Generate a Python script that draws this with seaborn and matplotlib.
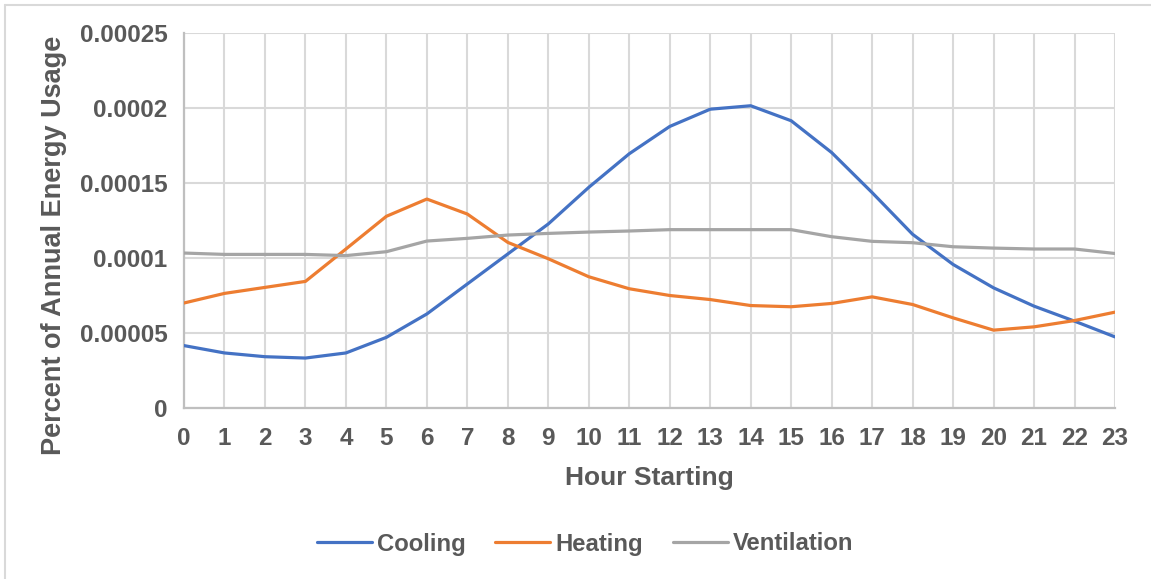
import matplotlib
matplotlib.use("Agg")
import matplotlib.pyplot as plt
from matplotlib.lines import Line2D
import seaborn as sns
import pandas as pd

hours = list(range(24))
cooling = [0.0000416, 0.0000367, 0.0000342, 0.0000333, 0.0000367, 0.0000471,
           0.0000627, 0.0000827, 0.0001027, 0.0001227, 0.0001471, 0.0001695,
           0.0001877, 0.0001992, 0.0002015, 0.0001915, 0.0001703, 0.0001436,
           0.0001158, 0.0000957, 0.0000801, 0.0000679, 0.0000579, 0.0000474]
heating = [0.0000700, 0.0000764, 0.0000804, 0.0000844, 0.0001060, 0.0001278,
           0.0001393, 0.0001293, 0.0001104, 0.0000995, 0.0000875, 0.0000795,
           0.0000750, 0.0000723, 0.0000683, 0.0000675, 0.0000697, 0.0000741,
           0.0000690, 0.0000601, 0.0000519, 0.0000541, 0.0000583, 0.0000639]
ventilation = [0.0001033, 0.0001024, 0.0001024, 0.0001024, 0.0001016, 0.0001042,
               0.0001113, 0.0001131, 0.0001153, 0.0001164, 0.0001173, 0.0001180,
               0.0001189, 0.0001189, 0.0001189, 0.0001189, 0.0001142, 0.0001111,
               0.0001102, 0.0001075, 0.0001066, 0.0001060, 0.0001060, 0.0001030]
series_names = ["Cooling", "Heating", "Ventilation"]
colors = ["#4472C4", "#ED7D31", "#A5A5A5"]
ytick_vals = [0, 0.00005, 0.0001, 0.00015, 0.0002, 0.00025]
ytick_labels = ["0", "0.00005", "0.0001", "0.00015", "0.0002", "0.00025"]

df = pd.DataFrame({
    "Hour": hours * 3,
    "Value": cooling + heating + ventilation,
    "Series": [s for s in series_names for _ in hours],
})

sns.set_theme(style="white")
plt.rcParams["font.family"] = ["Liberation Sans", "DejaVu Sans"]
txt = "#595959"

W, H = 1151, 579
fig = plt.figure(figsize=(W / 100, H / 100), dpi=100)
ax = fig.add_axes([184 / W, 1 - 408 / H, (1115 - 184) / W, (408 - 33) / H])

sns.lineplot(data=df, x="Hour", y="Value", hue="Series", hue_order=series_names,
             palette=colors, linewidth=2.3, ax=ax, legend=False, zorder=3)

ax.set_xlim(0, 23)
ax.set_ylim(0, 0.00025)
ax.set_xticks(hours)
ax.set_xticklabels([str(h) for h in hours])
ax.set_yticks(ytick_vals)
ax.set_yticklabels(ytick_labels)
ax.grid(True, color="#D9D9D9", linewidth=1.5, zorder=0)
ax.set_axisbelow(True)
for s in ["top", "right"]:
    ax.spines[s].set_visible(False)
for s in ["left", "bottom"]:
    ax.spines[s].set_color("#BFBFBF")
    ax.spines[s].set_linewidth(1.6)
ax.tick_params(axis="both", length=0, labelsize=17.5, labelcolor=txt)
ax.tick_params(axis="x", pad=14)
ax.tick_params(axis="y", pad=12)
for lab in ax.get_xticklabels() + ax.get_yticklabels():
    lab.set_fontweight("bold")

ax.set_xlabel("Hour Starting", fontsize=19, fontweight="bold", color=txt, labelpad=11)
ax.set_ylabel("Percent of Annual Energy Usage", fontsize=19.5, fontweight="bold", color=txt)
ax.yaxis.set_label_coords((67 - 184) / 931, (408 - 245) / 375)

handles = [Line2D([0], [0], color=c, linewidth=2.3) for c in colors]
fig.legend(handles, series_names, loc="center", bbox_to_anchor=(585 / W, 1 - 544 / H),
           ncol=3, frameon=False, handlelength=2.3, handletextpad=0.2,
           columnspacing=1.25, prop={"size": 17.2, "weight": "bold"}, labelcolor=txt)

# outer chart border (top and left visible)
fig.add_artist(Line2D([4.5 / W, 1], [1 - 4.5 / H, 1 - 4.5 / H], transform=fig.transFigure,
                      color="#D9D9D9", linewidth=1.5))
fig.add_artist(Line2D([4.5 / W, 4.5 / W], [0, 1 - 4.5 / H], transform=fig.transFigure,
                      color="#D9D9D9", linewidth=1.5))

fig.savefig("out.png", dpi=100)
